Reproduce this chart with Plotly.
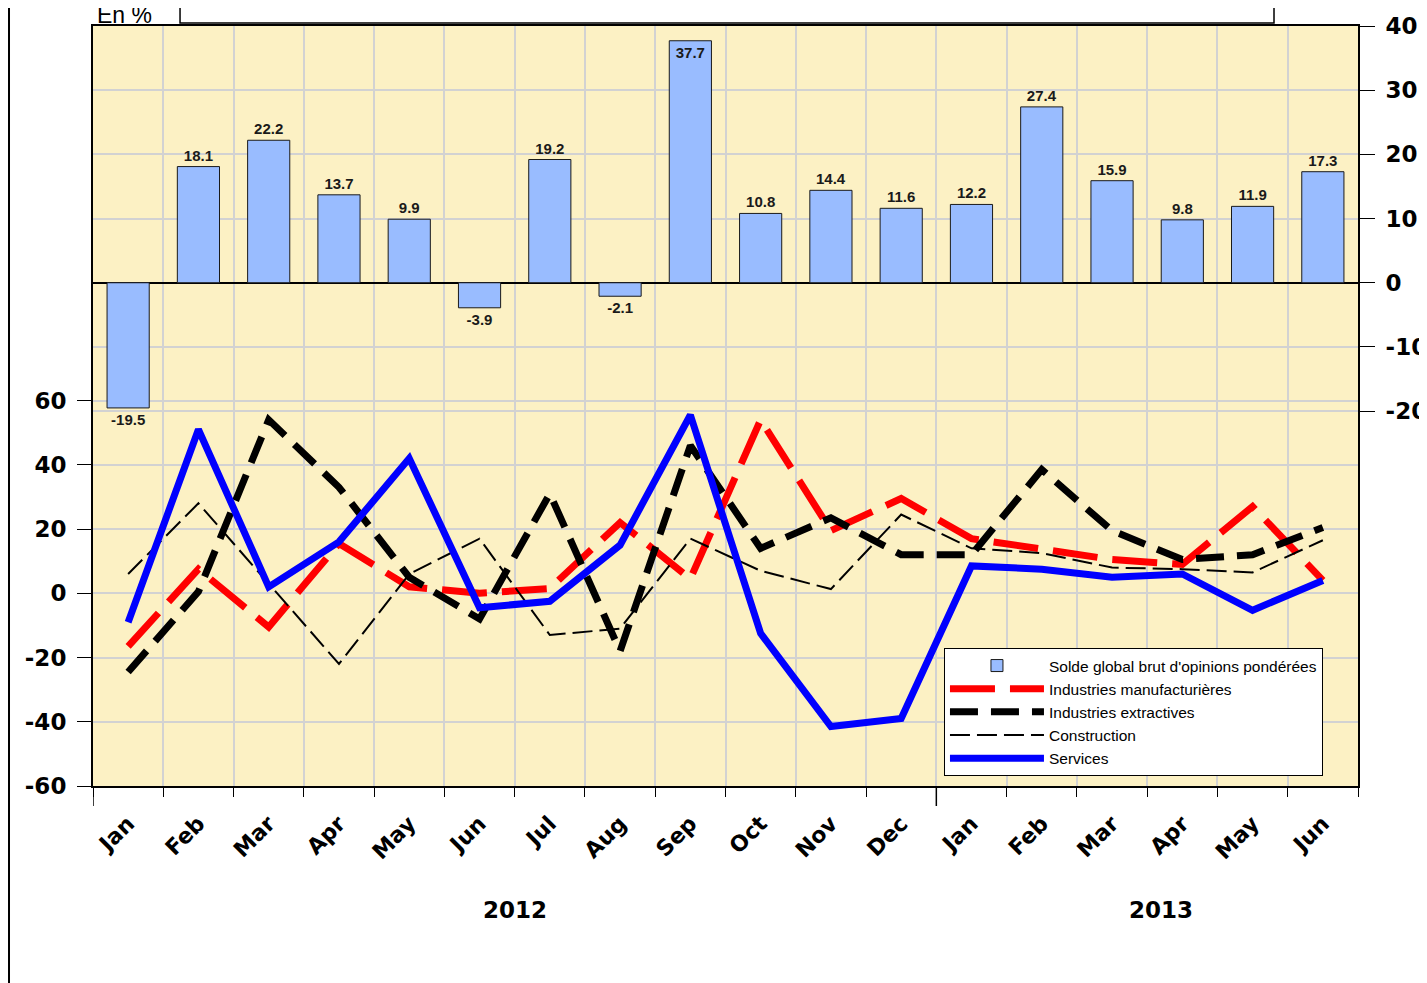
import plotly.graph_objects as go

months = ["Jan", "Feb", "Mar", "Apr", "May", "Jun", "Jul", "Aug", "Sep", "Oct", "Nov", "Dec",
          "Jan", "Feb", "Mar", "Apr", "May", "Jun"]
years = ["2012", "2013"]

solde_global = [-19.5, 18.1, 22.2, 13.7, 9.9, -3.9, 19.2, -2.1, 37.7, 10.8, 14.4, 11.6,
                12.2, 27.4, 15.9, 9.8, 11.9, 17.3]
manufacturieres = [-16.5, 7.5, -10.5, 15.5, 2, 0, 1.5, 22, 4.5, 54, 19.5, 29.5,
                   17, 13.5, 10.5, 9, 27, 4]
extractives = [-24.5, 0.5, 54, 33, 5, -8, 31, -18, 46, 14, 23.5, 12,
               12, 38.5, 19.5, 10.5, 12, 20.5]
construction = [6, 28, 3, -22, 6, 17, -13, -11, 17, 7, 1.3, 24.5,
                14, 12.5, 8, 7.5, 6.5, 16.5]
services = [-9, 51, 2, 16, 42, -4.5, -2.5, 15, 55.5, -12.5, -41.5, -39,
            8.5, 7.5, 5, 6, -5.3, 4]

left_ticks = [-60, -40, -20, 0, 20, 40, 60]
right_ticks = [-20, -10, 0, 10, 20, 30, 40]

x = list(range(len(months)))
FONT = "Liberation Sans, Arial, sans-serif"
WIDE = "DejaVu Sans, Verdana, sans-serif"

# labels that would not fit above the top of the axis go inside the bar
bar_text_pos = ["inside" if v > 35 else "outside" for v in solde_global]

fig = go.Figure()
fig.add_trace(go.Bar(
    x=x, y=solde_global, name="Solde global brut d'opinions pondérées",
    marker=dict(color="#99BCFF", line=dict(color="#1a1a1a", width=1)),
    width=0.6, text=[f"{v:.1f}" for v in solde_global], textposition=bar_text_pos,
    insidetextanchor="end", textangle=0,
    textfont=dict(family=FONT, size=15, color="#1a1a1a", weight="bold"),
    insidetextfont=dict(family=FONT, size=15, color="#1a1a1a", weight="bold"),
    outsidetextfont=dict(family=FONT, size=15, color="#1a1a1a", weight="bold"),
    cliponaxis=False, yaxis="y"))
fig.add_trace(go.Scatter(
    x=x, y=manufacturieres, name="Industries manufacturières", mode="lines",
    line=dict(color="#FF0000", width=7, dash="45px,15px"), yaxis="y2"))
fig.add_trace(go.Scatter(
    x=x, y=extractives, name="Industries extractives", mode="lines",
    line=dict(color="#000000", width=7, dash="28px,13px"), yaxis="y2"))
fig.add_trace(go.Scatter(
    x=x, y=construction, name="Construction", mode="lines",
    line=dict(color="#000000", width=2, dash="20px,7px"), yaxis="y2"))
fig.add_trace(go.Scatter(
    x=x, y=services, name="Services", mode="lines",
    line=dict(color="#0000FF", width=7), yaxis="y2"))

GRID = "#D2D2D2"
fig.update_layout(
    width=1419, height=975,
    margin=dict(l=85, r=69, t=18, b=197, autoexpand=False),
    paper_bgcolor="white", plot_bgcolor="#FCF1C4",
    font=dict(family=FONT, color="black"),
    showlegend=True,
    legend=dict(x=0.6727, y=0.1816, xanchor="left", yanchor="top",
                bgcolor="white", bordercolor="black", borderwidth=1,
                font=dict(family=FONT, size=15.5), tracegroupgap=0, itemwidth=94),
    xaxis=dict(range=[-0.5, len(months) - 0.5], tickmode="array", tickvals=x, ticktext=months,
               tickangle=-45, ticks="", showgrid=False, zeroline=False, automargin=False,
               tickfont=dict(family=WIDE, size=22, weight="bold"),
               ticklabelstandoff=14,
               showline=True, mirror=True, linecolor="black", linewidth=2,
               minor=dict(tick0=-0.5, dtick=1, ticks="outside", ticklen=9,
                          tickcolor="black", tickwidth=1, showgrid=True,
                          gridcolor=GRID, gridwidth=2)),
    yaxis=dict(range=[-78.4, 40], side="right", tickmode="array", automargin=False,
               tickvals=right_ticks, ticktext=[str(v) for v in right_ticks],
               ticks="outside", ticklen=15, tickcolor="black",
               tickfont=dict(family=WIDE, size=23, weight="bold"),
               ticklabelstandoff=6,
               showgrid=True, gridcolor=GRID, gridwidth=2,
               zeroline=True, zerolinecolor="black", zerolinewidth=1.5,
               showline=True, mirror=True, linecolor="black", linewidth=2),
    yaxis2=dict(range=[-60, 176.6], side="left", overlaying="y", tickmode="array",
                automargin=False,
                tickvals=left_ticks, ticktext=[str(v) for v in left_ticks],
                ticks="outside", ticklen=15, tickcolor="black",
                tickfont=dict(family=WIDE, size=23, weight="bold"),
                ticklabelstandoff=6,
                showgrid=True, gridcolor=GRID, gridwidth=2, zeroline=False,
                showline=False),
)

# long year-boundary ticks
for xv in [-0.5, 11.5]:
    fig.add_shape(type="line", xref="x", yref="paper", x0=xv, x1=xv, y0=0, y1=-20 / 760,
                  line=dict(color="black", width=1.5))

# year labels
for yr, xv in zip(years, [5.5, 14.7]):
    fig.add_annotation(text=yr, x=xv, xref="x", y=-0.163, yref="paper", yanchor="middle",
                       showarrow=False, font=dict(family=WIDE, size=23, weight="bold"))

# page frame and truncated title box
fig.add_shape(type="line", xref="paper", yref="paper", x0=-0.0664, x1=-0.0664, y0=-0.3, y1=1.1,
              line=dict(color="black", width=2))
fig.add_shape(type="rect", xref="paper", yref="paper", x0=0.0688, x1=0.9336, y0=1.0039, y1=1.1,
              fillcolor="white", line=dict(color="black", width=1.5))
fig.add_annotation(text="En %", x=0.0016, xref="paper", xanchor="left", y=0.995, yref="paper",
                   yanchor="bottom", showarrow=False, font=dict(family=FONT, size=23))

fig.write_html("out.html")
